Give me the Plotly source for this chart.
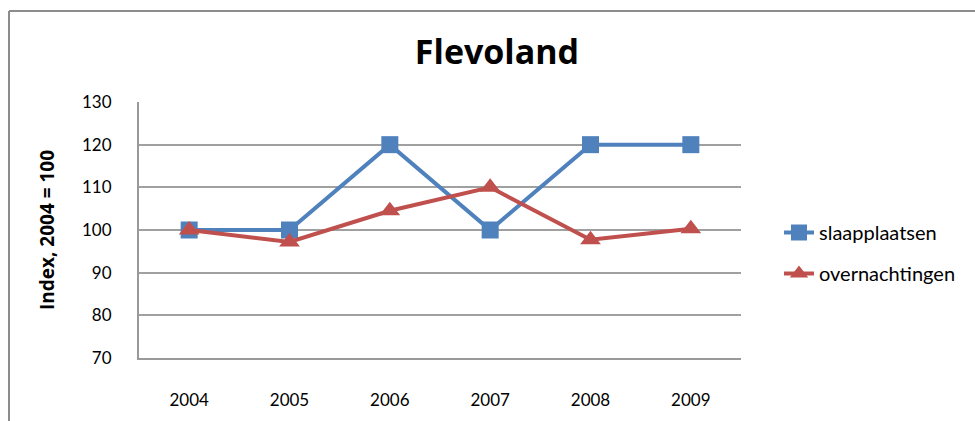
import plotly.graph_objects as go

years = ["2004", "2005", "2006", "2007", "2008", "2009"]
slaapplaatsen = [100, 100, 120, 100, 120, 120]
overnachtingen = [100, 97.2, 104.5, 110, 97.7, 100.3]
y_ticks = [70, 80, 90, 100, 110, 120, 130]

W, H = 975, 421
L, R, T, B = 139, 234, 102, 63
pw, ph = W - L - R, H - T - B

fig = go.Figure()
fig.add_trace(go.Scatter(x=years, y=slaapplaatsen, name="slaapplaatsen", mode="lines+markers",
                         legendgroup="a",
                         line=dict(color="#4F81BD", width=4),
                         marker=dict(symbol="square", size=17, color="#4F81BD")))
fig.add_trace(go.Scatter(x=years, y=overnachtingen, name="overnachtingen", mode="lines+markers",
                         legendgroup="b",
                         line=dict(color="#C0504D", width=4),
                         marker=dict(symbol="triangle-up", size=18, color="#C0504D")))

fx = (9 - L) / pw
fy = (H - B - 11) / ph
fig.add_shape(type="line", xref="paper", yref="paper", x0=fx, x1=fx, y0=-1, y1=fy,
              line=dict(color="#8c8c8c", width=2))
fig.add_shape(type="line", xref="paper", yref="paper", x0=fx, x1=3, y0=fy, y1=fy,
              line=dict(color="#8c8c8c", width=2))

fig.update_layout(
    width=W, height=H,
    margin=dict(l=L, r=R, t=T, b=B),
    paper_bgcolor="white", plot_bgcolor="white",
    title=dict(text="<b>Flevoland</b>", x=497 / W, xanchor="center", y=1 - 52 / H, yanchor="middle",
               font=dict(family="Open Sans", size=34, color="black")),
    xaxis=dict(type="category", range=[-0.5, 5.5], showgrid=False, showline=True,
               linecolor="#999999", linewidth=2, ticks="", ticklabelstandoff=26,
               tickfont=dict(family="Lato", size=17, color="black")),
    yaxis=dict(range=[70, 130], tickvals=y_ticks, showgrid=True, gridcolor="#a0a0a0", gridwidth=1.5,
               showline=True, linecolor="#999999", linewidth=2, ticks="", ticklabelstandoff=22,
               zeroline=False,
               tickfont=dict(family="Lato", size=17, color="black"),
               title=dict(text="<b>Index, 2004 = 100</b>", standoff=22,
                          font=dict(family="Open Sans", size=19, color="black"))),
    legend=dict(x=(779 - L) / pw, y=(H - B - 253) / ph, yanchor="middle", xanchor="left",
                font=dict(family="Lato", size=20, color="black"), tracegroupgap=12,
                bgcolor="rgba(0,0,0,0)"),
    showlegend=True,
)

fig.write_html("out.html")
